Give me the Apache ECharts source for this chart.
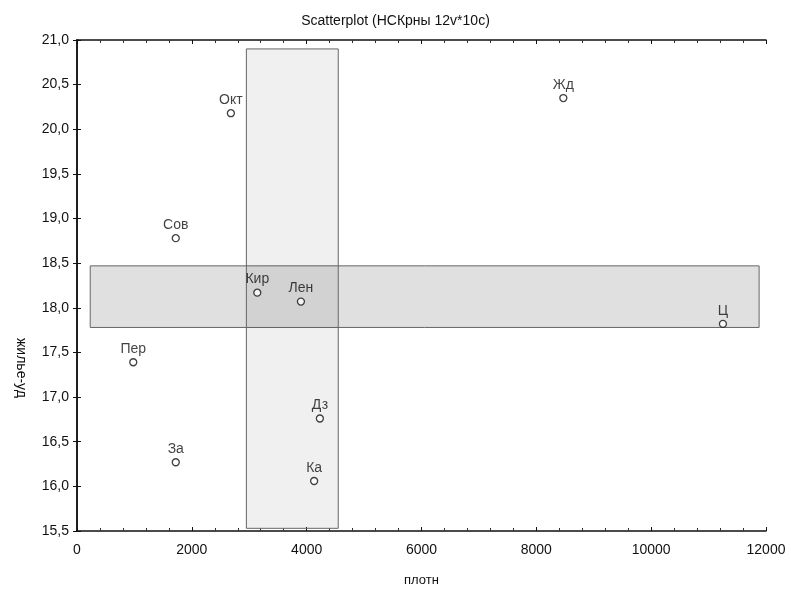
<!DOCTYPE html>
<html>
<head>
<meta charset="utf-8">
<script src="https://cdn.jsdelivr.net/npm/echarts@6/dist/echarts.min.js"></script>
<style>
html, body { margin: 0; padding: 0; background: #fff; }
#scatter1 { width: 791px; height: 594px; }
</style>
</head>
<body>
<div id="scatter1"></div>
<script>
// districts
var names = ['Окт', 'Жд', 'Сов', 'Кир', 'Лен', 'Ц', 'Пер', 'Дз', 'За', 'Ка'];
var plotn = [2680, 8470, 1720, 3140, 3900, 11250, 980, 4230, 1720, 4130];
var zhilUd = [20.18, 20.35, 18.78, 18.17, 18.07, 17.82, 17.39, 16.76, 16.27, 16.06];

// shaded bands [x1, y1, x2, y2]
var bandH = [230, 18.47, 11880, 17.78];
var bandV = [2950, 20.9, 4550, 15.53];

var xTicks = [0, 2000, 4000, 6000, 8000, 10000, 12000];
var yTicks = [15.5, 16, 16.5, 17, 17.5, 18, 18.5, 19, 19.5, 20, 20.5, 21];

(function setscatter(){
    var chart = echarts.init(document.getElementById('scatter1'));
    var pts = [];
    for (var i = 0; i < names.length; i++) {
        pts.push({value: [plotn[i], zhilUd[i]], name: names[i]});
    }
    var fnt = "'Liberation Sans', Arial, sans-serif";
    var axisLine = {show: true, lineStyle: {color: '#111', width: 1.5}};
    var option = {
        backgroundColor: '#fff',
        animation: false,
        title: {
            text: 'Scatterplot (НСКрны 12v*10c)',
            left: 'center',
            top: 9,
            textStyle: {fontSize: 14, fontWeight: 'normal', color: '#111', fontFamily: "'Liberation Sans Narrow', " + fnt}
        },
        grid: {left: 77, right: 25, top: 40, bottom: 63},
        xAxis: [
            {
                type: 'value', min: xTicks[0], max: xTicks[xTicks.length - 1], interval: 2000,
                name: 'плотн', nameLocation: 'middle', nameGap: 43,
                nameTextStyle: {fontSize: 13, color: '#111', fontFamily: fnt},
                axisLine: axisLine,
                axisTick: {show: true, inside: true, length: 4, lineStyle: {color: '#111'}},
                minorTick: {show: true, splitNumber: 5, length: 3, lineStyle: {color: '#333'}},
                axisLabel: {fontSize: 14, color: '#111', margin: 12, fontFamily: fnt,
                    formatter: function (v) { return String(v); }},
                splitLine: {show: false}
            },
            {
                type: 'value', position: 'top', min: xTicks[0], max: xTicks[xTicks.length - 1], interval: 2000,
                axisLine: axisLine,
                axisTick: {show: true, inside: true, length: 4, lineStyle: {color: '#111'}},
                minorTick: {show: true, splitNumber: 5, length: 3, lineStyle: {color: '#333'}},
                axisLabel: {show: false},
                splitLine: {show: false}
            }
        ],
        yAxis: [
            {
                type: 'value', min: yTicks[0], max: yTicks[yTicks.length - 1], interval: 0.5,
                axisLine: axisLine,
                axisTick: {show: true, inside: true, length: 4, lineStyle: {color: '#111'}},
                axisLabel: {
                    fontSize: 14, color: '#111', margin: 8, fontFamily: fnt,
                    formatter: function (v) { return v.toFixed(1).replace('.', ','); }
                },
                splitLine: {show: false}
            },
            {
                type: 'value', position: 'right', min: yTicks[0], max: yTicks[yTicks.length - 1], interval: 0.5,
                axisLine: axisLine,
                axisTick: {show: true, inside: true, length: 4, lineStyle: {color: '#111'}},
                axisLabel: {show: false},
                splitLine: {show: false}
            }
        ],
        graphic: [
            {
                type: 'text', left: 14, top: 338, rotation: -Math.PI / 2,
                style: {text: 'жилье-уд', fill: '#111', font: "14px 'Liberation Sans', Arial, sans-serif"}
            }
        ],
        series: [
            {
                type: 'scatter',
                symbol: 'circle',
                symbolSize: 7,
                z: 5,
                itemStyle: {color: '#fff', borderColor: '#111', borderWidth: 1.3},
                label: {
                    show: true, position: 'top', distance: 2,
                    formatter: '{b}', fontSize: 14, color: '#111', fontFamily: fnt
                },
                markArea: {
                    silent: true,
                    itemStyle: {color: 'rgba(0,0,0,0.12)', borderColor: '#666', borderWidth: 1},
                    data: [
                        [{coord: [bandH[0], bandH[1]]}, {coord: [bandH[2], bandH[3]]}],
                        [{coord: [bandV[0], bandV[1]], itemStyle: {color: 'rgba(0,0,0,0.06)'}}, {coord: [bandV[2], bandV[3]]}]
                    ]
                },
                data: pts
            }
        ]
    };
    chart.setOption(option);
})();
</script>
</body>
</html>
